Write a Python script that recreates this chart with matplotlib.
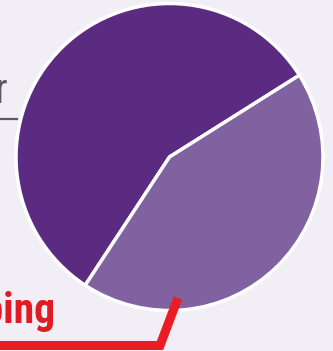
import matplotlib.pyplot as plt

# slice shares (percent)
labels = ['Other', 'Shopping']
shares = [56.8, 43.2]
colors = ['#5b2b82', '#8062a0']

W, H = 333, 351
fig = plt.figure(figsize=(W / 100, H / 100), dpi=100)
fig.patch.set_facecolor('#f1eff5')
ax = fig.add_axes([0, 0, 1, 1])
ax.set_facecolor('#f1eff5')

cx, cy, r = 169.5, H - 157, 153.5
ax.pie(shares, colors=colors, startangle=32.2, center=(cx, cy), radius=r,
       wedgeprops=dict(edgecolor='white', linewidth=2.5), frame=True)
ax.set_xlim(0, W)
ax.set_ylim(0, H)
ax.set_aspect('equal')
ax.axis('off')

font = ['Roboto Condensed', 'Barlow Condensed', 'DejaVu Sans']

# left label, mostly cut off
ax.text(8, H - 103, labels[0], ha='right', va='baseline', fontsize=30,
        color='#5a5a5a', family=font)
ax.plot([0, 17], [H - 119, H - 119], color='#5a5a5a', lw=1.6)

# bottom label with leader line
ax.text(56, H - 323, labels[1], ha='right', va='baseline', fontsize=30,
        fontweight='bold', color='#e01b24', family=font)
ax.plot([0, 160, 178], [H - 345.5, H - 345.5, H - 298], color='#ec1c24', lw=6.5,
        solid_joinstyle='miter', solid_capstyle='butt')

fig.savefig('out.png', dpi=100, facecolor=fig.get_facecolor())
